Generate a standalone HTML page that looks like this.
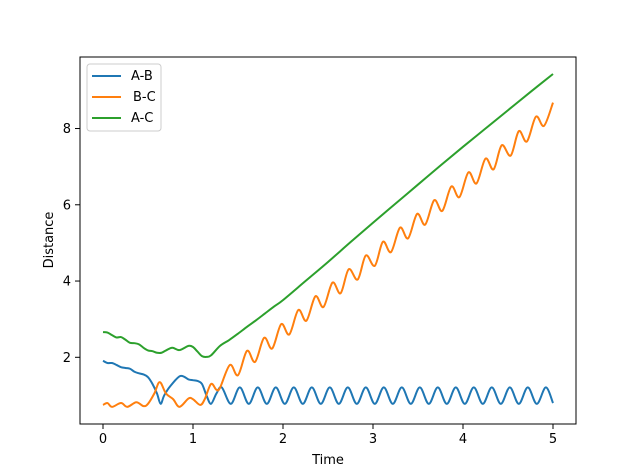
<!DOCTYPE html>
<html><head><meta charset="utf-8"><style>
html,body{margin:0;padding:0;background:#fff;}
svg{display:block;font-family:"DejaVu Sans","Liberation Sans",sans-serif;}
</style></head><body>
<svg id="chart" width="640" height="476" viewBox="0 0 640 476" xmlns="http://www.w3.org/2000/svg">
<rect width="640" height="476" fill="#fff"/>
<g id="plot"></g>
<rect x="80" y="57" width="496" height="367" fill="none" stroke="#000" stroke-width="1"/>
<g id="xticks"></g><g id="yticks"></g>
<text x="328" y="464" font-size="13" text-anchor="middle">Time</text>
<text transform="translate(53,240) rotate(-90)" font-size="13" text-anchor="middle">Distance</text>
<g>
<rect x="87" y="64" width="74" height="67" rx="3" fill="#fff" fill-opacity="0.8" stroke="#ccc"/>
<line x1="92" y1="76" x2="121" y2="76" stroke="#1f77b4" stroke-width="2"/>
<text x="131" y="80" font-size="13">A-B</text>
<line x1="92" y1="97" x2="121" y2="97" stroke="#ff7f0e" stroke-width="2"/>
<text x="133" y="101" font-size="13">B-C</text>
<line x1="92" y1="118" x2="121" y2="118" stroke="#2ca02c" stroke-width="2"/>
<text x="131" y="122" font-size="13">A-C</text>
</g>
</svg>
<script>
const xTicks=[0,1,2,3,4,5];
const yTicks=[2,4,6,8];
const abT=[0,0.05,0.1,0.15,0.2,0.25,0.3,0.35,0.4,0.45,0.5,0.55,0.6,0.64,0.68,0.75,0.86,0.95,1.0,1.05,1.1,1.15,1.2,1.26,1.32,1.42,1.52,1.62,1.72,1.82,1.92,2.02,2.12,2.22,2.32,2.42,2.52,2.62,2.72,2.82,2.92,3.02,3.12,3.22,3.32,3.42,3.52,3.62,3.72,3.82,3.92,4.02,4.12,4.22,4.32,4.42,4.52,4.62,4.72,4.82,4.92,5.0];
const abV=[1.91,1.85,1.85,1.8,1.74,1.72,1.7,1.62,1.58,1.55,1.48,1.3,1.05,0.78,1.0,1.25,1.51,1.42,1.4,1.38,1.3,1.0,0.78,1.05,1.21,0.78,1.21,0.78,1.21,0.78,1.21,0.78,1.21,0.78,1.21,0.78,1.21,0.78,1.21,0.78,1.21,0.78,1.21,0.78,1.21,0.78,1.21,0.78,1.21,0.78,1.21,0.78,1.21,0.78,1.21,0.78,1.21,0.78,1.21,0.78,1.21,0.8];
const bcT=[0,0.05,0.1,0.2,0.27,0.37,0.45,0.5,0.57,0.63,0.7,0.78,0.85,0.95,1.0,1.08,1.13,1.2,1.26,1.3,1.41,1.5,1.6,1.69,1.79,1.88,1.98,2.07,2.17,2.26,2.36,2.45,2.55,2.64,2.73,2.83,2.92,3.02,3.11,3.2,3.3,3.39,3.49,3.58,3.68,3.77,3.87,3.96,4.06,4.15,4.25,4.34,4.43,4.53,4.62,4.71,4.81,4.9,5.0];
const bcV=[0.75,0.8,0.7,0.8,0.7,0.82,0.72,0.78,1.05,1.35,1.05,0.9,0.7,0.92,0.9,0.75,0.9,1.3,1.15,1.2,1.8,1.53,2.17,1.88,2.51,2.23,2.87,2.6,3.24,2.96,3.6,3.32,3.96,3.68,4.31,4.04,4.67,4.4,5.03,4.76,5.4,5.12,5.76,5.48,6.12,5.84,6.48,6.2,6.85,6.56,7.21,6.93,7.56,7.29,7.93,7.66,8.31,8.07,8.68];
const acT=[0,0.05,0.1,0.15,0.2,0.25,0.3,0.35,0.4,0.45,0.5,0.55,0.6,0.65,0.7,0.77,0.85,0.95,1.0,1.05,1.1,1.15,1.2,1.3,1.4,1.5,1.6,1.7,1.8,1.9,2.0,2.25,2.5,2.75,3.0,3.25,3.5,3.75,4.0,4.25,4.5,4.75,5.0];
const acV=[2.66,2.65,2.58,2.52,2.53,2.46,2.38,2.37,2.34,2.25,2.18,2.16,2.12,2.12,2.18,2.25,2.19,2.3,2.27,2.15,2.03,2.01,2.05,2.3,2.45,2.62,2.8,2.97,3.15,3.33,3.5,4.0,4.5,5.02,5.53,6.03,6.53,7.03,7.52,8.0,8.48,8.96,9.43];
const sx=t=>103+t*90;
const sy=v=>357.3-(v-2)*38.13;
const NS="http://www.w3.org/2000/svg";
function mk(tag,attrs){const e=document.createElementNS(NS,tag);for(const k in attrs)e.setAttribute(k,attrs[k]);return e;}
function smooth(T,V){const p=T.map((t,i)=>[sx(t),sy(V[i])]);let d="M"+p[0][0]+","+p[0][1];
for(let i=0;i<p.length-1;i++){const p0=p[i-1]||p[i],p1=p[i],p2=p[i+1],p3=p[i+2]||p2;
const c1=[p1[0]+(p2[0]-p0[0])/6,p1[1]+(p2[1]-p0[1])/6],c2=[p2[0]-(p3[0]-p1[0])/6,p2[1]-(p3[1]-p1[1])/6];
d+=" C"+c1[0].toFixed(2)+","+c1[1].toFixed(2)+" "+c2[0].toFixed(2)+","+c2[1].toFixed(2)+" "+p2[0].toFixed(2)+","+p2[1].toFixed(2);}return d;}
const plot=document.getElementById('plot');
const series=[[abT,abV,'#1f77b4','line-ab'],[bcT,bcV,'#ff7f0e','line-bc'],[acT,acV,'#2ca02c','line-ac']];
series.forEach(s=>{const path=mk('path',{d:smooth(s[0],s[1]),fill:'none',stroke:s[2],'stroke-width':2,'stroke-linejoin':'round'});


plot.appendChild(path);});
const xg=document.getElementById('xticks');
xTicks.forEach(t=>{const l=mk('line',{x1:sx(t),x2:sx(t),y1:424,y2:429,stroke:'#000'});


xg.appendChild(l);
const tx=mk('text',{x:sx(t),y:443,'font-size':13,'text-anchor':'middle'});tx.textContent=t;


xg.appendChild(tx);});
const yg=document.getElementById('yticks');
yTicks.forEach(v=>{const l=mk('line',{x1:75,x2:80,y1:sy(v),y2:sy(v),stroke:'#000'});


yg.appendChild(l);
const tx=mk('text',{x:71,y:sy(v)+4.5,'font-size':13,'text-anchor':'end'});tx.textContent=v;


yg.appendChild(tx);});
</script>
</body></html>
